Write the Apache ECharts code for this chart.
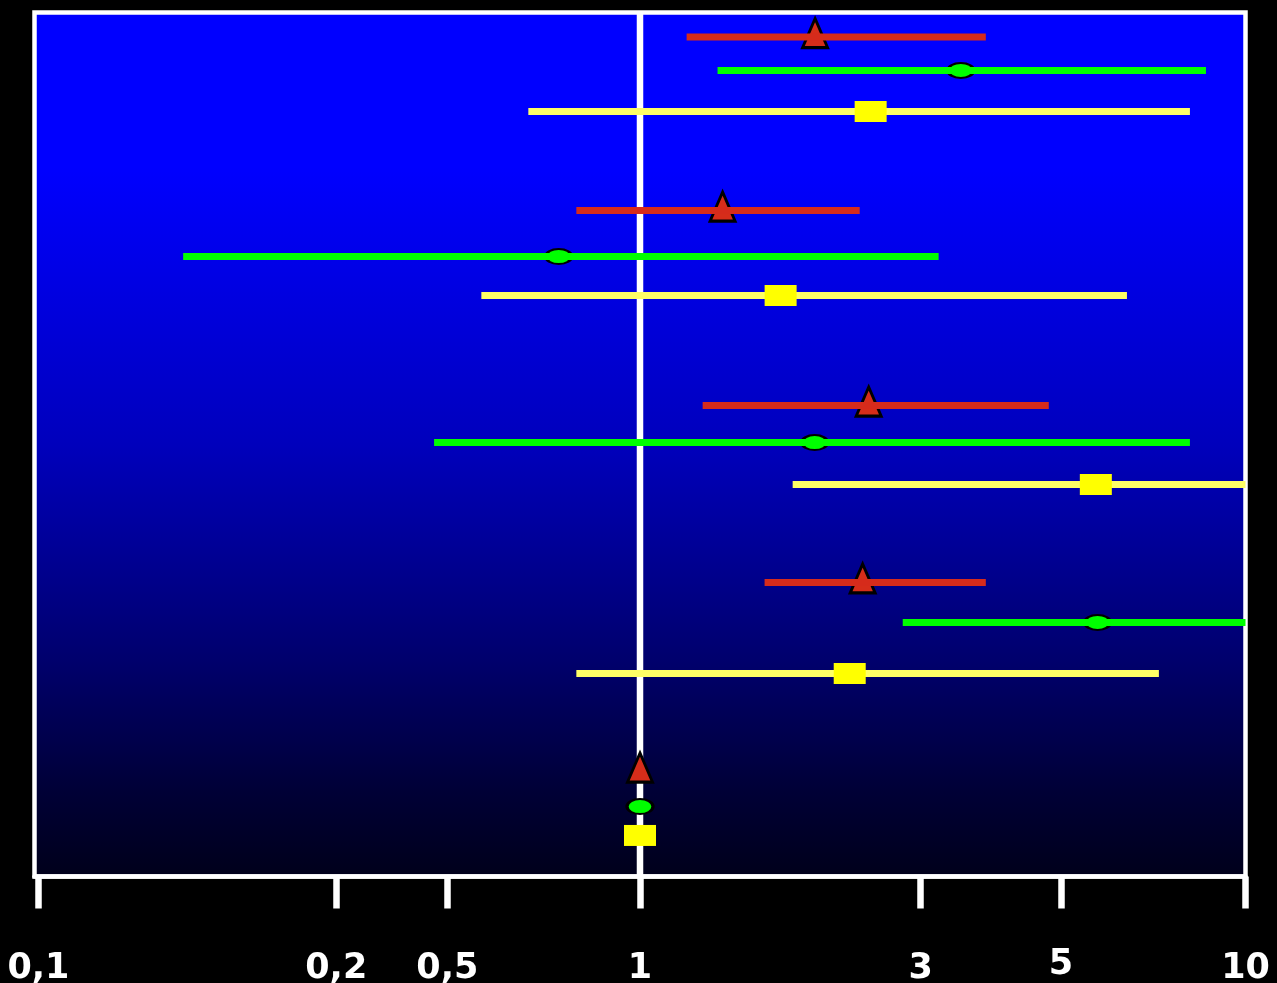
<!DOCTYPE html>
<html>
<head>
<meta charset="utf-8">
<script src="https://cdn.jsdelivr.net/npm/echarts@6/dist/echarts.min.js"></script>
<style>
html,body{margin:0;padding:0;background:#000;}
#c{width:1277px;height:983px;}
</style>
</head>
<body>
<div id="c"></div>
<script>
// x-axis tick marks (log scale) and their printed labels
const tickValues = [0.1015, 0.315, 0.4806, 1, 2.908, 4.955, 10];
const tickLabels = ['0,1', '0,2', '0,5', '1', '3', '5', '10'];

// row positions on the vertical (0 = top, 100 = bottom); 5 groups, last = reference
const triRow = [2.84, 22.92, 45.49, 65.97, 87.85];
const ellRow = [6.71, 28.24, 49.77, 70.60, 91.90];
const sqRow  = [11.46, 32.75, 54.63, 76.50, 95.25];

// red triangles: estimate and interval
const triPoint = [1.946, 1.369, 2.386, 2.332, 1];
const triLow   = [1.194, 0.785, 1.269, 1.606, null];
const triHigh  = [3.725, 2.306, 4.733, 3.725, null];

// green ellipses
const ellPoint = [3.387, 0.734, 1.943, 5.697, 1];
const ellLow   = [1.343, 0.176, 0.457, 2.716, null];
const ellHigh  = [8.604, 3.113, 8.095, 10, null];

// yellow squares
const sqPoint = [2.404, 1.707, 5.66, 2.220, 1];
const sqLow   = [0.654, 0.547, 1.787, 0.785, null];
const sqHigh  = [8.095, 6.371, 10, 7.194, null];

function ciData(lo, hi, row) {
  const out = [];
  for (let i = 0; i < row.length; i++) {
    if (lo[i] != null && hi[i] != null) out.push([lo[i], hi[i], row[i]]);
  }
  return out;
}
function ptData(p, row) {
  return p.map((v, i) => [v, row[i]]);
}
function ciSeries(data, color, z) {
  return {
    type: 'custom',
    z: z,
    silent: true,
    data: data,
    encode: { x: [0, 1], y: 2 },
    renderItem: function (params, api) {
      const a = api.coord([api.value(0), api.value(2)]);
      const b = api.coord([api.value(1), api.value(2)]);
      return {
        type: 'line',
        shape: { x1: a[0], y1: a[1], x2: b[0], y2: b[1] },
        style: { stroke: color, lineWidth: 7, lineCap: 'butt' }
      };
    }
  };
}

const chart = echarts.init(document.getElementById('c'));
chart.setOption({
  backgroundColor: '#000',
  animation: false,
  grid: {
    left: 34.5, top: 12.5, width: 1211, height: 864,
    containLabel: false,
    outerBoundsMode: 'none',
    show: true,
    borderColor: '#fff',
    borderWidth: 4.5,
    backgroundColor: new echarts.graphic.LinearGradient(0, 0, 0, 1, [
      { offset: 0, color: '#0000ff' },
      { offset: 0.18, color: '#0000ff' },
      { offset: 0.5, color: '#0000bc' },
      { offset: 0.75, color: '#00006c' },
      { offset: 0.9, color: '#000036' },
      { offset: 1, color: '#00001a' }
    ])
  },
  xAxis: {
    type: 'log',
    logBase: 10,
    min: 0.1,
    max: 10,
    position: 'bottom',
    splitLine: { show: false },
    minorTick: { show: false },
    axisLine: { show: true, onZero: false, lineStyle: { color: '#fff', width: 4.5 } },
    axisTick: {
      show: true,
      customValues: tickValues,
      length: 32,
      lineStyle: { color: '#fff', width: 6.5 }
    },
    axisLabel: {
      show: true,
      customValues: tickValues,
      margin: 75,
      color: '#fff',
      fontFamily: 'DejaVu Sans',
      fontWeight: 'bold',
      fontSize: 35,
      rich: {
        n: { lineHeight: 35 },
        up: { lineHeight: 27 }
      },
      formatter: function (v) {
        let best = 0, bd = Infinity;
        for (let i = 0; i < tickValues.length; i++) {
          const d = Math.abs(Math.log(v) - Math.log(tickValues[i]));
          if (d < bd) { bd = d; best = i; }
        }
        const t = tickLabels[best];
        return t === '5' ? '{up|' + t + '}' : '{n|' + t + '}';
      }
    }
  },
  yAxis: {
    type: 'value',
    min: 0,
    max: 100,
    inverse: true,
    show: false,
    splitLine: { show: false }
  },
  series: [
    {
      type: 'custom',
      z: 1,
      silent: true,
      data: [[1]],
      renderItem: function (params, api) {
        const a = api.coord([api.value(0), 0]);
        const b = api.coord([api.value(0), 100]);
        return {
          type: 'line',
          shape: { x1: a[0], y1: a[1], x2: b[0], y2: b[1] },
          style: { stroke: '#fff', lineWidth: 6.5 }
        };
      }
    },
    {
      type: 'scatter',
      z: 2,
      data: ptData(triPoint, triRow),
      symbol: 'triangle',
      symbolSize: [25, 29],
      symbolOffset: [0, -4],
      itemStyle: { color: '#d62d1a', borderColor: '#000', borderWidth: 3, opacity: 1 }
    },
    {
      type: 'scatter',
      z: 2,
      data: ptData(ellPoint, ellRow),
      symbol: 'circle',
      symbolSize: [26, 15],
      itemStyle: { color: '#00ff00', borderColor: '#000', borderWidth: 2.5, opacity: 1 }
    },
    ciSeries(ciData(triLow, triHigh, triRow), '#d62b1b', 3),
    ciSeries(ciData(ellLow, ellHigh, ellRow), '#00ff00', 3),
    ciSeries(ciData(sqLow, sqHigh, sqRow), '#ffff66', 3),
    {
      type: 'scatter',
      z: 4,
      data: ptData(sqPoint, sqRow),
      symbol: 'rect',
      symbolSize: [32, 21],
      itemStyle: { color: '#ffff00', opacity: 1 }
    }
  ]
});
</script>
</body>
</html>
